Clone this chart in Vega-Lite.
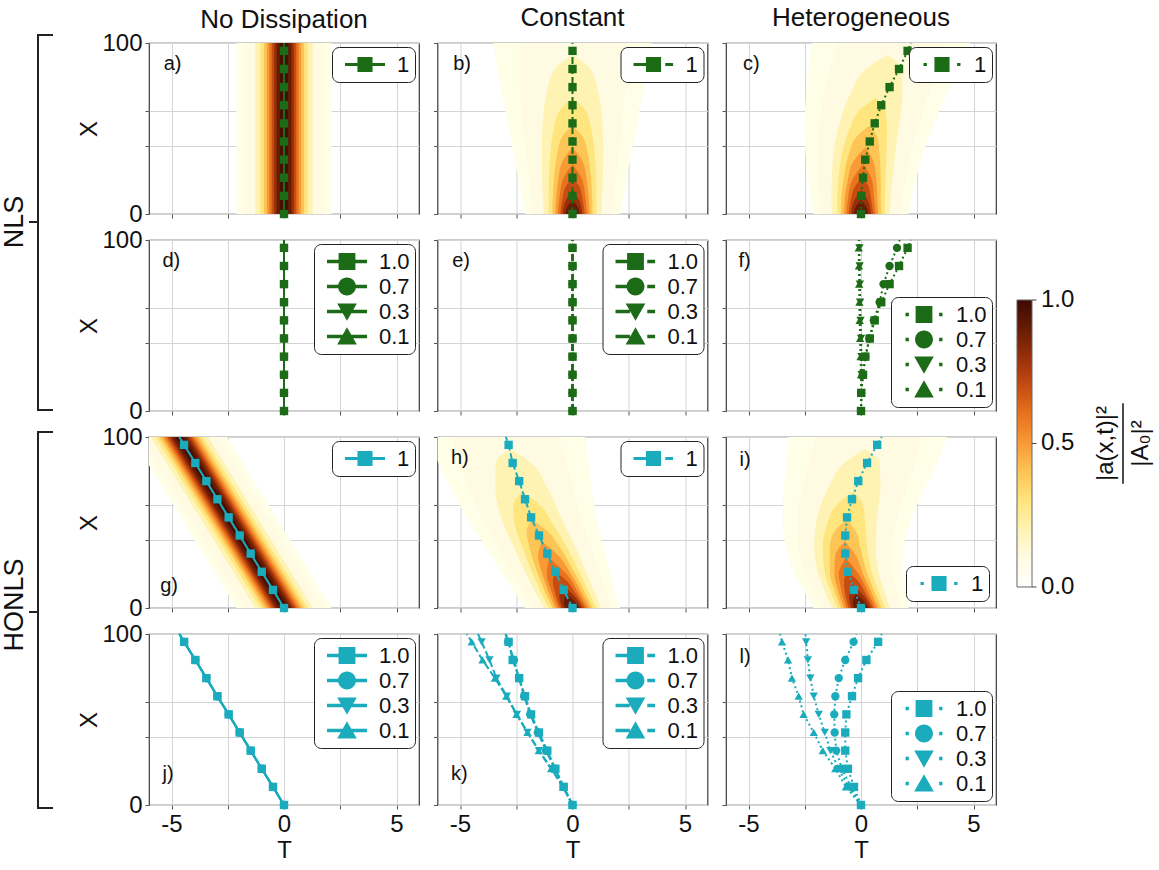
{
  "$schema": "https://vega.github.io/schema/vega-lite/v6.json",
  "background": "white",
  "padding": {"left": 0, "top": 4, "right": 5, "bottom": 5},
  "columns": 3,
  "bounds": "flush",
  "spacing": {"row": 26, "column": 18.5},
  "resolve": {"scale": {"shape": "independent"}, "legend": {"shape": "independent"}},
  "config": {
    "font": "Liberation Sans",
    "view": {"stroke": "#3a3a3a", "strokeWidth": 1.2},
    "axis": {"labelFontSize": 24, "titleFontSize": 24, "titleFontWeight": "normal", "labelColor": "#111", "titleColor": "#111", "tickColor": "#555", "gridColor": "#d4d4d4", "tickSize": 4, "labelPadding": 3, "domain": false},
    "axisY": {"titlePadding": 0},
    "axisX": {"titlePadding": 2},
    "title": {"fontSize": 26, "fontWeight": "normal", "offset": 8, "color": "#111"},
    "legend": {"padding": 5, "strokeColor": "#222", "cornerRadius": 7, "fillColor": "#ffffff", "labelFontSize": 22, "symbolSize": 3136, "clipHeight": 25, "labelOffset": 4, "rowPadding": 0, "offset": 4, "symbolStrokeWidth": 0, "symbolOpacity": 1, "labelColor": "#111"}
  },
  "datasets": {
    "tags": [
      {"p": "a", "lab": "a)"}, {"p": "b", "lab": "b)"}, {"p": "c", "lab": "c)"},
      {"p": "d", "lab": "d)"}, {"p": "e", "lab": "e)"}, {"p": "f", "lab": "f)"},
      {"p": "g", "lab": "g)"}, {"p": "h", "lab": "h)"}, {"p": "i", "lab": "i)"},
      {"p": "j", "lab": "j)"}, {"p": "k", "lab": "k)"}, {"p": "l", "lab": "l)"}
    ],
    "heat": [
      {"p":"a","v":0.035,"x":0,"t":-2.115,"t2":2.115},{"p":"a","v":0.035,"x":100,"t":-2.115,"t2":2.115},
      {"p":"a","v":0.1,"x":0,"t":-1.743,"t2":1.743},{"p":"a","v":0.1,"x":100,"t":-1.743,"t2":1.743},
      {"p":"a","v":0.2,"x":0,"t":-1.282,"t2":1.282},{"p":"a","v":0.2,"x":100,"t":-1.282,"t2":1.282},
      {"p":"a","v":0.3,"x":0,"t":-1.054,"t2":1.054},{"p":"a","v":0.3,"x":100,"t":-1.054,"t2":1.054},
      {"p":"a","v":0.4,"x":0,"t":-0.893,"t2":0.893},{"p":"a","v":0.4,"x":100,"t":-0.893,"t2":0.893},
      {"p":"a","v":0.5,"x":0,"t":-0.763,"t2":0.763},{"p":"a","v":0.5,"x":100,"t":-0.763,"t2":0.763},
      {"p":"a","v":0.6,"x":0,"t":-0.65,"t2":0.65},{"p":"a","v":0.6,"x":100,"t":-0.65,"t2":0.65},
      {"p":"a","v":0.7,"x":0,"t":-0.544,"t2":0.544},{"p":"a","v":0.7,"x":100,"t":-0.544,"t2":0.544},
      {"p":"a","v":0.8,"x":0,"t":-0.439,"t2":0.439},{"p":"a","v":0.8,"x":100,"t":-0.439,"t2":0.439},
      {"p":"a","v":0.9,"x":0,"t":-0.327,"t2":0.327},{"p":"a","v":0.9,"x":100,"t":-0.327,"t2":0.327},
      {"p":"a","v":0.975,"x":0,"t":-0.182,"t2":0.182},{"p":"a","v":0.975,"x":100,"t":-0.182,"t2":0.182},

      {"p":"g","v":0.035,"x":0,"t":-2.115,"t2":2.115},{"p":"g","v":0.035,"x":100,"t":-6.765,"t2":-2.535},
      {"p":"g","v":0.1,"x":0,"t":-1.743,"t2":1.743},{"p":"g","v":0.1,"x":100,"t":-6.393,"t2":-2.907},
      {"p":"g","v":0.2,"x":0,"t":-1.282,"t2":1.282},{"p":"g","v":0.2,"x":100,"t":-5.932,"t2":-3.368},
      {"p":"g","v":0.3,"x":0,"t":-1.054,"t2":1.054},{"p":"g","v":0.3,"x":100,"t":-5.704,"t2":-3.596},
      {"p":"g","v":0.4,"x":0,"t":-0.893,"t2":0.893},{"p":"g","v":0.4,"x":100,"t":-5.543,"t2":-3.757},
      {"p":"g","v":0.5,"x":0,"t":-0.763,"t2":0.763},{"p":"g","v":0.5,"x":100,"t":-5.413,"t2":-3.887},
      {"p":"g","v":0.6,"x":0,"t":-0.65,"t2":0.65},{"p":"g","v":0.6,"x":100,"t":-5.3,"t2":-4.0},
      {"p":"g","v":0.7,"x":0,"t":-0.544,"t2":0.544},{"p":"g","v":0.7,"x":100,"t":-5.194,"t2":-4.106},
      {"p":"g","v":0.8,"x":0,"t":-0.439,"t2":0.439},{"p":"g","v":0.8,"x":100,"t":-5.089,"t2":-4.211},
      {"p":"g","v":0.9,"x":0,"t":-0.327,"t2":0.327},{"p":"g","v":0.9,"x":100,"t":-4.977,"t2":-4.323},
      {"p":"g","v":0.975,"x":0,"t":-0.182,"t2":0.182},{"p":"g","v":0.975,"x":100,"t":-4.832,"t2":-4.468},

      {"p":"b","v":0.035,"x":0,"t":-2.115,"t2":2.115},{"p":"b","v":0.035,"x":10,"t":-2.251,"t2":2.251},{"p":"b","v":0.035,"x":20,"t":-2.392,"t2":2.392},{"p":"b","v":0.035,"x":35,"t":-2.608,"t2":2.608},{"p":"b","v":0.035,"x":50,"t":-2.831,"t2":2.831},{"p":"b","v":0.035,"x":70,"t":-3.127,"t2":3.127},{"p":"b","v":0.035,"x":85,"t":-3.337,"t2":3.337},{"p":"b","v":0.035,"x":100,"t":-3.523,"t2":3.523},
      {"p":"b","v":0.1,"x":0,"t":-1.743,"t2":1.743},{"p":"b","v":0.1,"x":10,"t":-1.837,"t2":1.837},{"p":"b","v":0.1,"x":20,"t":-1.931,"t2":1.931},{"p":"b","v":0.1,"x":35,"t":-2.066,"t2":2.066},{"p":"b","v":0.1,"x":50,"t":-2.19,"t2":2.19},{"p":"b","v":0.1,"x":70,"t":-2.321,"t2":2.321},{"p":"b","v":0.1,"x":85,"t":-2.369,"t2":2.369},{"p":"b","v":0.1,"x":100,"t":-2.344,"t2":2.344},
      {"p":"b","v":0.2,"x":0,"t":-1.282,"t2":1.282},{"p":"b","v":0.2,"x":10,"t":-1.32,"t2":1.32},{"p":"b","v":0.2,"x":20,"t":-1.35,"t2":1.35},{"p":"b","v":0.2,"x":35,"t":-1.369,"t2":1.369},{"p":"b","v":0.2,"x":50,"t":-1.34,"t2":1.34},{"p":"b","v":0.2,"x":70,"t":-1.163,"t2":1.163},{"p":"b","v":0.2,"x":85,"t":-0.78,"t2":0.78},{"p":"b","v":0.2,"x":93,"t":0,"t2":0},
      {"p":"b","v":0.3,"x":0,"t":-1.054,"t2":1.054},{"p":"b","v":0.3,"x":10,"t":-1.061,"t2":1.061},{"p":"b","v":0.3,"x":20,"t":-1.051,"t2":1.051},{"p":"b","v":0.3,"x":35,"t":-0.991,"t2":0.991},{"p":"b","v":0.3,"x":50,"t":-0.831,"t2":0.831},{"p":"b","v":0.3,"x":60,"t":-0.602,"t2":0.602},{"p":"b","v":0.3,"x":68,"t":0,"t2":0},
      {"p":"b","v":0.4,"x":0,"t":-0.893,"t2":0.893},{"p":"b","v":0.4,"x":10,"t":-0.873,"t2":0.873},{"p":"b","v":0.4,"x":20,"t":-0.829,"t2":0.829},{"p":"b","v":0.4,"x":35,"t":-0.681,"t2":0.681},{"p":"b","v":0.4,"x":45,"t":-0.465,"t2":0.465},{"p":"b","v":0.4,"x":51.5,"t":0,"t2":0},
      {"p":"b","v":0.5,"x":0,"t":-0.763,"t2":0.763},{"p":"b","v":0.5,"x":10,"t":-0.718,"t2":0.718},{"p":"b","v":0.5,"x":20,"t":-0.633,"t2":0.633},{"p":"b","v":0.5,"x":30,"t":-0.477,"t2":0.477},{"p":"b","v":0.5,"x":39.1,"t":0,"t2":0},
      {"p":"b","v":0.6,"x":0,"t":-0.65,"t2":0.65},{"p":"b","v":0.6,"x":10,"t":-0.575,"t2":0.575},{"p":"b","v":0.6,"x":20,"t":-0.434,"t2":0.434},{"p":"b","v":0.6,"x":29.3,"t":0,"t2":0},
      {"p":"b","v":0.7,"x":0,"t":-0.544,"t2":0.544},{"p":"b","v":0.7,"x":10,"t":-0.43,"t2":0.43},{"p":"b","v":0.7,"x":16,"t":-0.307,"t2":0.307},{"p":"b","v":0.7,"x":21.1,"t":0,"t2":0},
      {"p":"b","v":0.8,"x":0,"t":-0.439,"t2":0.439},{"p":"b","v":0.8,"x":7,"t":-0.331,"t2":0.331},{"p":"b","v":0.8,"x":14.1,"t":0,"t2":0},
      {"p":"b","v":0.9,"x":0,"t":-0.327,"t2":0.327},{"p":"b","v":0.9,"x":4,"t":-0.239,"t2":0.239},{"p":"b","v":0.9,"x":7.97,"t":0,"t2":0},
      {"p":"b","v":0.975,"x":0,"t":-0.182,"t2":0.182},{"p":"b","v":0.975,"x":2.51,"t":0,"t2":0},

      {"p":"c","v":0.035,"x":0,"t":-2.115,"t2":2.115},{"p":"c","v":0.035,"x":10,"t":-2.246,"t2":2.256},{"p":"c","v":0.035,"x":20,"t":-2.342,"t2":2.442},{"p":"c","v":0.035,"x":35,"t":-2.468,"t2":2.748},{"p":"c","v":0.035,"x":50,"t":-2.501,"t2":3.161},{"p":"c","v":0.035,"x":70,"t":-2.447,"t2":3.807},{"p":"c","v":0.035,"x":85,"t":-2.317,"t2":4.357},{"p":"c","v":0.035,"x":100,"t":-2.193,"t2":4.853},
      {"p":"c","v":0.1,"x":0,"t":-1.743,"t2":1.743},{"p":"c","v":0.1,"x":10,"t":-1.832,"t2":1.842},{"p":"c","v":0.1,"x":20,"t":-1.881,"t2":1.981},{"p":"c","v":0.1,"x":35,"t":-1.926,"t2":2.206},{"p":"c","v":0.1,"x":50,"t":-1.86,"t2":2.52},{"p":"c","v":0.1,"x":70,"t":-1.641,"t2":3.001},{"p":"c","v":0.1,"x":85,"t":-1.349,"t2":3.389},{"p":"c","v":0.1,"x":100,"t":-1.014,"t2":3.674},
      {"p":"c","v":0.2,"x":0,"t":-1.282,"t2":1.282},{"p":"c","v":0.2,"x":10,"t":-1.315,"t2":1.325},{"p":"c","v":0.2,"x":20,"t":-1.3,"t2":1.4},{"p":"c","v":0.2,"x":35,"t":-1.229,"t2":1.509},{"p":"c","v":0.2,"x":50,"t":-1.01,"t2":1.67},{"p":"c","v":0.2,"x":70,"t":-0.483,"t2":1.843},{"p":"c","v":0.2,"x":85,"t":0.24,"t2":1.8},{"p":"c","v":0.2,"x":93,"t":1.17,"t2":1.17},
      {"p":"c","v":0.3,"x":0,"t":-1.054,"t2":1.054},{"p":"c","v":0.3,"x":10,"t":-1.056,"t2":1.066},{"p":"c","v":0.3,"x":20,"t":-1.001,"t2":1.101},{"p":"c","v":0.3,"x":35,"t":-0.851,"t2":1.131},{"p":"c","v":0.3,"x":50,"t":-0.501,"t2":1.161},{"p":"c","v":0.3,"x":60,"t":-0.112,"t2":1.092},{"p":"c","v":0.3,"x":68,"t":0.64,"t2":0.64},
      {"p":"c","v":0.4,"x":0,"t":-0.893,"t2":0.893},{"p":"c","v":0.4,"x":10,"t":-0.868,"t2":0.878},{"p":"c","v":0.4,"x":20,"t":-0.779,"t2":0.879},{"p":"c","v":0.4,"x":35,"t":-0.541,"t2":0.821},{"p":"c","v":0.4,"x":45,"t":-0.205,"t2":0.725},{"p":"c","v":0.4,"x":51.5,"t":0.35,"t2":0.35},
      {"p":"c","v":0.5,"x":0,"t":-0.763,"t2":0.763},{"p":"c","v":0.5,"x":10,"t":-0.713,"t2":0.723},{"p":"c","v":0.5,"x":20,"t":-0.583,"t2":0.683},{"p":"c","v":0.5,"x":30,"t":-0.377,"t2":0.577},{"p":"c","v":0.5,"x":39.1,"t":0.2,"t2":0.2},
      {"p":"c","v":0.6,"x":0,"t":-0.65,"t2":0.65},{"p":"c","v":0.6,"x":10,"t":-0.57,"t2":0.58},{"p":"c","v":0.6,"x":20,"t":-0.384,"t2":0.484},{"p":"c","v":0.6,"x":29.3,"t":0.1,"t2":0.1},
      {"p":"c","v":0.7,"x":0,"t":-0.544,"t2":0.544},{"p":"c","v":0.7,"x":10,"t":-0.425,"t2":0.435},{"p":"c","v":0.7,"x":16,"t":-0.277,"t2":0.337},{"p":"c","v":0.7,"x":21.1,"t":0.055,"t2":0.055},
      {"p":"c","v":0.8,"x":0,"t":-0.439,"t2":0.439},{"p":"c","v":0.8,"x":7,"t":-0.331,"t2":0.331},{"p":"c","v":0.8,"x":14.1,"t":0.02,"t2":0.02},
      {"p":"c","v":0.9,"x":0,"t":-0.327,"t2":0.327},{"p":"c","v":0.9,"x":4,"t":-0.239,"t2":0.239},{"p":"c","v":0.9,"x":7.97,"t":0,"t2":0},
      {"p":"c","v":0.975,"x":0,"t":-0.182,"t2":0.182},{"p":"c","v":0.975,"x":2.51,"t":0,"t2":0},

      {"p":"h","v":0.035,"x":0,"t":-2.115,"t2":2.115},{"p":"h","v":0.035,"x":10,"t":-2.616,"t2":1.886},{"p":"h","v":0.035,"x":20,"t":-3.102,"t2":1.682},{"p":"h","v":0.035,"x":35,"t":-3.828,"t2":1.388},{"p":"h","v":0.035,"x":50,"t":-4.581,"t2":1.081},{"p":"h","v":0.035,"x":70,"t":-5.397,"t2":0.857},{"p":"h","v":0.035,"x":85,"t":-5.967,"t2":0.707},{"p":"h","v":0.035,"x":100,"t":-6.483,"t2":0.563},
      {"p":"h","v":0.1,"x":0,"t":-1.743,"t2":1.743},{"p":"h","v":0.1,"x":10,"t":-2.202,"t2":1.472},{"p":"h","v":0.1,"x":20,"t":-2.641,"t2":1.221},{"p":"h","v":0.1,"x":35,"t":-3.286,"t2":0.846},{"p":"h","v":0.1,"x":50,"t":-3.94,"t2":0.44},{"p":"h","v":0.1,"x":70,"t":-4.591,"t2":0.051},{"p":"h","v":0.1,"x":85,"t":-4.999,"t2":-0.261},{"p":"h","v":0.1,"x":100,"t":-5.304,"t2":-0.616},
      {"p":"h","v":0.2,"x":0,"t":-1.282,"t2":1.282},{"p":"h","v":0.2,"x":10,"t":-1.685,"t2":0.955},{"p":"h","v":0.2,"x":20,"t":-2.06,"t2":0.64},{"p":"h","v":0.2,"x":35,"t":-2.589,"t2":0.149},{"p":"h","v":0.2,"x":50,"t":-3.09,"t2":-0.41},{"p":"h","v":0.2,"x":70,"t":-3.433,"t2":-1.107},{"p":"h","v":0.2,"x":85,"t":-3.41,"t2":-1.85},{"p":"h","v":0.2,"x":93,"t":-2.78,"t2":-2.78},
      {"p":"h","v":0.3,"x":0,"t":-1.054,"t2":1.054},{"p":"h","v":0.3,"x":10,"t":-1.426,"t2":0.696},{"p":"h","v":0.3,"x":20,"t":-1.761,"t2":0.341},{"p":"h","v":0.3,"x":35,"t":-2.211,"t2":-0.229},{"p":"h","v":0.3,"x":50,"t":-2.581,"t2":-0.919},{"p":"h","v":0.3,"x":60,"t":-2.632,"t2":-1.428},{"p":"h","v":0.3,"x":68,"t":-2.23,"t2":-2.23},
      {"p":"h","v":0.4,"x":0,"t":-0.893,"t2":0.893},{"p":"h","v":0.4,"x":10,"t":-1.238,"t2":0.508},{"p":"h","v":0.4,"x":20,"t":-1.539,"t2":0.119},{"p":"h","v":0.4,"x":35,"t":-1.901,"t2":-0.539},{"p":"h","v":0.4,"x":45,"t":-2.045,"t2":-1.115},{"p":"h","v":0.4,"x":51.5,"t":-1.79,"t2":-1.79},
      {"p":"h","v":0.5,"x":0,"t":-0.763,"t2":0.763},{"p":"h","v":0.5,"x":10,"t":-1.083,"t2":0.353},{"p":"h","v":0.5,"x":20,"t":-1.343,"t2":-0.077},{"p":"h","v":0.5,"x":30,"t":-1.527,"t2":-0.573},{"p":"h","v":0.5,"x":39.1,"t":-1.37,"t2":-1.37},
      {"p":"h","v":0.6,"x":0,"t":-0.65,"t2":0.65},{"p":"h","v":0.6,"x":10,"t":-0.94,"t2":0.21},{"p":"h","v":0.6,"x":20,"t":-1.144,"t2":-0.276},{"p":"h","v":0.6,"x":29.3,"t":-1.03,"t2":-1.03},
      {"p":"h","v":0.7,"x":0,"t":-0.544,"t2":0.544},{"p":"h","v":0.7,"x":10,"t":-0.795,"t2":0.065},{"p":"h","v":0.7,"x":16,"t":-0.877,"t2":-0.263},{"p":"h","v":0.7,"x":21.1,"t":-0.75,"t2":-0.75},
      {"p":"h","v":0.8,"x":0,"t":-0.439,"t2":0.439},{"p":"h","v":0.8,"x":7,"t":-0.586,"t2":0.076},{"p":"h","v":0.8,"x":14.1,"t":-0.51,"t2":-0.51},
      {"p":"h","v":0.9,"x":0,"t":-0.327,"t2":0.327},{"p":"h","v":0.9,"x":4,"t":-0.385,"t2":0.093},{"p":"h","v":0.9,"x":7.97,"t":-0.29,"t2":-0.29},
      {"p":"h","v":0.975,"x":0,"t":-0.182,"t2":0.182},{"p":"h","v":0.975,"x":2.51,"t":-0.09,"t2":-0.09},

      {"p":"i","v":0.035,"x":0,"t":-2.115,"t2":2.115},{"p":"i","v":0.035,"x":10,"t":-2.541,"t2":1.961},{"p":"i","v":0.035,"x":20,"t":-2.942,"t2":1.842},{"p":"i","v":0.035,"x":35,"t":-3.318,"t2":1.898},{"p":"i","v":0.035,"x":50,"t":-3.481,"t2":2.181},{"p":"i","v":0.035,"x":70,"t":-3.427,"t2":2.827},{"p":"i","v":0.035,"x":85,"t":-3.287,"t2":3.387},{"p":"i","v":0.035,"x":100,"t":-3.223,"t2":3.823},
      {"p":"i","v":0.1,"x":0,"t":-1.743,"t2":1.743},{"p":"i","v":0.1,"x":10,"t":-2.127,"t2":1.547},{"p":"i","v":0.1,"x":20,"t":-2.481,"t2":1.381},{"p":"i","v":0.1,"x":35,"t":-2.776,"t2":1.356},{"p":"i","v":0.1,"x":50,"t":-2.84,"t2":1.54},{"p":"i","v":0.1,"x":70,"t":-2.621,"t2":2.021},{"p":"i","v":0.1,"x":85,"t":-2.319,"t2":2.419},{"p":"i","v":0.1,"x":100,"t":-2.044,"t2":2.644},
      {"p":"i","v":0.2,"x":0,"t":-1.282,"t2":1.282},{"p":"i","v":0.2,"x":10,"t":-1.61,"t2":1.03},{"p":"i","v":0.2,"x":20,"t":-1.9,"t2":0.8},{"p":"i","v":0.2,"x":35,"t":-2.079,"t2":0.659},{"p":"i","v":0.2,"x":50,"t":-1.99,"t2":0.69},{"p":"i","v":0.2,"x":70,"t":-1.463,"t2":0.863},{"p":"i","v":0.2,"x":85,"t":-0.73,"t2":0.83},{"p":"i","v":0.2,"x":93,"t":0.18,"t2":0.18},
      {"p":"i","v":0.3,"x":0,"t":-1.054,"t2":1.054},{"p":"i","v":0.3,"x":10,"t":-1.351,"t2":0.771},{"p":"i","v":0.3,"x":20,"t":-1.601,"t2":0.501},{"p":"i","v":0.3,"x":35,"t":-1.701,"t2":0.281},{"p":"i","v":0.3,"x":50,"t":-1.481,"t2":0.181},{"p":"i","v":0.3,"x":60,"t":-1.102,"t2":0.102},{"p":"i","v":0.3,"x":68,"t":-0.34,"t2":-0.34},
      {"p":"i","v":0.4,"x":0,"t":-0.893,"t2":0.893},{"p":"i","v":0.4,"x":10,"t":-1.163,"t2":0.583},{"p":"i","v":0.4,"x":20,"t":-1.379,"t2":0.279},{"p":"i","v":0.4,"x":35,"t":-1.391,"t2":-0.029},{"p":"i","v":0.4,"x":45,"t":-1.165,"t2":-0.235},{"p":"i","v":0.4,"x":51.5,"t":-0.63,"t2":-0.63},
      {"p":"i","v":0.5,"x":0,"t":-0.763,"t2":0.763},{"p":"i","v":0.5,"x":10,"t":-1.008,"t2":0.428},{"p":"i","v":0.5,"x":20,"t":-1.183,"t2":0.083},{"p":"i","v":0.5,"x":30,"t":-1.157,"t2":-0.203},{"p":"i","v":0.5,"x":39.1,"t":-0.72,"t2":-0.72},
      {"p":"i","v":0.6,"x":0,"t":-0.65,"t2":0.65},{"p":"i","v":0.6,"x":10,"t":-0.865,"t2":0.285},{"p":"i","v":0.6,"x":20,"t":-0.984,"t2":-0.116},{"p":"i","v":0.6,"x":29.3,"t":-0.67,"t2":-0.67},
      {"p":"i","v":0.7,"x":0,"t":-0.544,"t2":0.544},{"p":"i","v":0.7,"x":10,"t":-0.72,"t2":0.14},{"p":"i","v":0.7,"x":16,"t":-0.757,"t2":-0.143},{"p":"i","v":0.7,"x":21.1,"t":-0.57,"t2":-0.57},
      {"p":"i","v":0.8,"x":0,"t":-0.439,"t2":0.439},{"p":"i","v":0.8,"x":7,"t":-0.531,"t2":0.131},{"p":"i","v":0.8,"x":14.1,"t":-0.4,"t2":-0.4},
      {"p":"i","v":0.9,"x":0,"t":-0.327,"t2":0.327},{"p":"i","v":0.9,"x":4,"t":-0.359,"t2":0.119},{"p":"i","v":0.9,"x":7.97,"t":-0.23,"t2":-0.23},
      {"p":"i","v":0.975,"x":0,"t":-0.182,"t2":0.182},{"p":"i","v":0.975,"x":2.51,"t":-0.07,"t2":-0.07}
    ],
    "tracks": [
      {"p":"a","d":"1","x":0,"t":0},{"p":"a","d":"1","x":10.6,"t":0},{"p":"a","d":"1","x":21.2,"t":0},{"p":"a","d":"1","x":31.8,"t":0},{"p":"a","d":"1","x":42.4,"t":0},{"p":"a","d":"1","x":53,"t":0},{"p":"a","d":"1","x":63.6,"t":0},{"p":"a","d":"1","x":74.2,"t":0},{"p":"a","d":"1","x":84.8,"t":0},{"p":"a","d":"1","x":95.4,"t":0},{"p":"a","d":"1","x":100,"t":0},
      {"p":"b","d":"1","x":0,"t":0},{"p":"b","d":"1","x":10.6,"t":0},{"p":"b","d":"1","x":21.2,"t":0},{"p":"b","d":"1","x":31.8,"t":0},{"p":"b","d":"1","x":42.4,"t":0},{"p":"b","d":"1","x":53,"t":0},{"p":"b","d":"1","x":63.6,"t":0},{"p":"b","d":"1","x":74.2,"t":0},{"p":"b","d":"1","x":84.8,"t":0},{"p":"b","d":"1","x":95.4,"t":0},{"p":"b","d":"1","x":100,"t":0},
      {"p":"c","d":"1","x":0,"t":0},{"p":"c","d":"1","x":10.6,"t":0.01},{"p":"c","d":"1","x":21.2,"t":0.09},{"p":"c","d":"1","x":31.8,"t":0.19},{"p":"c","d":"1","x":42.4,"t":0.39},{"p":"c","d":"1","x":53,"t":0.61},{"p":"c","d":"1","x":63.6,"t":0.9},{"p":"c","d":"1","x":74.2,"t":1.27},{"p":"c","d":"1","x":84.8,"t":1.69},{"p":"c","d":"1","x":95.4,"t":2.07},{"p":"c","d":"1","x":100,"t":2.22},
      {"p":"d","d":"0.1","x":0,"t":0},{"p":"d","d":"0.1","x":10.6,"t":0},{"p":"d","d":"0.1","x":21.2,"t":0},{"p":"d","d":"0.1","x":31.8,"t":0},{"p":"d","d":"0.1","x":42.4,"t":0},{"p":"d","d":"0.1","x":53,"t":0},{"p":"d","d":"0.1","x":63.6,"t":0},{"p":"d","d":"0.1","x":74.2,"t":0},{"p":"d","d":"0.1","x":84.8,"t":0},{"p":"d","d":"0.1","x":95.4,"t":0},{"p":"d","d":"0.1","x":100,"t":0},
      {"p":"d","d":"0.3","x":0,"t":0},{"p":"d","d":"0.3","x":10.6,"t":0},{"p":"d","d":"0.3","x":21.2,"t":0},{"p":"d","d":"0.3","x":31.8,"t":0},{"p":"d","d":"0.3","x":42.4,"t":0},{"p":"d","d":"0.3","x":53,"t":0},{"p":"d","d":"0.3","x":63.6,"t":0},{"p":"d","d":"0.3","x":74.2,"t":0},{"p":"d","d":"0.3","x":84.8,"t":0},{"p":"d","d":"0.3","x":95.4,"t":0},{"p":"d","d":"0.3","x":100,"t":0},
      {"p":"d","d":"0.7","x":0,"t":0},{"p":"d","d":"0.7","x":10.6,"t":0},{"p":"d","d":"0.7","x":21.2,"t":0},{"p":"d","d":"0.7","x":31.8,"t":0},{"p":"d","d":"0.7","x":42.4,"t":0},{"p":"d","d":"0.7","x":53,"t":0},{"p":"d","d":"0.7","x":63.6,"t":0},{"p":"d","d":"0.7","x":74.2,"t":0},{"p":"d","d":"0.7","x":84.8,"t":0},{"p":"d","d":"0.7","x":95.4,"t":0},{"p":"d","d":"0.7","x":100,"t":0},
      {"p":"d","d":"1.0","x":0,"t":0},{"p":"d","d":"1.0","x":10.6,"t":0},{"p":"d","d":"1.0","x":21.2,"t":0},{"p":"d","d":"1.0","x":31.8,"t":0},{"p":"d","d":"1.0","x":42.4,"t":0},{"p":"d","d":"1.0","x":53,"t":0},{"p":"d","d":"1.0","x":63.6,"t":0},{"p":"d","d":"1.0","x":74.2,"t":0},{"p":"d","d":"1.0","x":84.8,"t":0},{"p":"d","d":"1.0","x":95.4,"t":0},{"p":"d","d":"1.0","x":100,"t":0},
      {"p":"e","d":"0.1","x":0,"t":0},{"p":"e","d":"0.1","x":10.6,"t":0},{"p":"e","d":"0.1","x":21.2,"t":0},{"p":"e","d":"0.1","x":31.8,"t":0},{"p":"e","d":"0.1","x":42.4,"t":0},{"p":"e","d":"0.1","x":53,"t":0},{"p":"e","d":"0.1","x":63.6,"t":0},{"p":"e","d":"0.1","x":74.2,"t":0},{"p":"e","d":"0.1","x":84.8,"t":0},{"p":"e","d":"0.1","x":95.4,"t":0},{"p":"e","d":"0.1","x":100,"t":0},
      {"p":"e","d":"0.3","x":0,"t":0},{"p":"e","d":"0.3","x":10.6,"t":0},{"p":"e","d":"0.3","x":21.2,"t":0},{"p":"e","d":"0.3","x":31.8,"t":0},{"p":"e","d":"0.3","x":42.4,"t":0},{"p":"e","d":"0.3","x":53,"t":0},{"p":"e","d":"0.3","x":63.6,"t":0},{"p":"e","d":"0.3","x":74.2,"t":0},{"p":"e","d":"0.3","x":84.8,"t":0},{"p":"e","d":"0.3","x":95.4,"t":0},{"p":"e","d":"0.3","x":100,"t":0},
      {"p":"e","d":"0.7","x":0,"t":0},{"p":"e","d":"0.7","x":10.6,"t":0},{"p":"e","d":"0.7","x":21.2,"t":0},{"p":"e","d":"0.7","x":31.8,"t":0},{"p":"e","d":"0.7","x":42.4,"t":0},{"p":"e","d":"0.7","x":53,"t":0},{"p":"e","d":"0.7","x":63.6,"t":0},{"p":"e","d":"0.7","x":74.2,"t":0},{"p":"e","d":"0.7","x":84.8,"t":0},{"p":"e","d":"0.7","x":95.4,"t":0},{"p":"e","d":"0.7","x":100,"t":0},
      {"p":"e","d":"1.0","x":0,"t":0},{"p":"e","d":"1.0","x":10.6,"t":0},{"p":"e","d":"1.0","x":21.2,"t":0},{"p":"e","d":"1.0","x":31.8,"t":0},{"p":"e","d":"1.0","x":42.4,"t":0},{"p":"e","d":"1.0","x":53,"t":0},{"p":"e","d":"1.0","x":63.6,"t":0},{"p":"e","d":"1.0","x":74.2,"t":0},{"p":"e","d":"1.0","x":84.8,"t":0},{"p":"e","d":"1.0","x":95.4,"t":0},{"p":"e","d":"1.0","x":100,"t":0},
      {"p":"f","d":"0.1","x":0,"t":0},{"p":"f","d":"0.1","x":10.6,"t":0.01},{"p":"f","d":"0.1","x":21.2,"t":0},{"p":"f","d":"0.1","x":31.8,"t":-0.02},{"p":"f","d":"0.1","x":42.4,"t":-0.04},{"p":"f","d":"0.1","x":53,"t":-0.06},{"p":"f","d":"0.1","x":63.6,"t":-0.07},{"p":"f","d":"0.1","x":74.2,"t":-0.08},{"p":"f","d":"0.1","x":84.8,"t":-0.09},{"p":"f","d":"0.1","x":95.4,"t":-0.1},{"p":"f","d":"0.1","x":100,"t":-0.1},
      {"p":"f","d":"0.3","x":0,"t":0},{"p":"f","d":"0.3","x":10.6,"t":0.02},{"p":"f","d":"0.3","x":21.2,"t":0.03},{"p":"f","d":"0.3","x":31.8,"t":0.02},{"p":"f","d":"0.3","x":42.4,"t":0},{"p":"f","d":"0.3","x":53,"t":-0.02},{"p":"f","d":"0.3","x":63.6,"t":-0.04},{"p":"f","d":"0.3","x":74.2,"t":-0.05},{"p":"f","d":"0.3","x":84.8,"t":-0.06},{"p":"f","d":"0.3","x":95.4,"t":-0.07},{"p":"f","d":"0.3","x":100,"t":-0.07},
      {"p":"f","d":"0.7","x":0,"t":0},{"p":"f","d":"0.7","x":10.6,"t":0.01},{"p":"f","d":"0.7","x":21.2,"t":0.09},{"p":"f","d":"0.7","x":31.8,"t":0.19},{"p":"f","d":"0.7","x":42.4,"t":0.37},{"p":"f","d":"0.7","x":53,"t":0.57},{"p":"f","d":"0.7","x":63.6,"t":0.83},{"p":"f","d":"0.7","x":74.2,"t":1.0},{"p":"f","d":"0.7","x":84.8,"t":1.27},{"p":"f","d":"0.7","x":95.4,"t":1.6},{"p":"f","d":"0.7","x":100,"t":1.72},
      {"p":"f","d":"1.0","x":0,"t":0},{"p":"f","d":"1.0","x":10.6,"t":0.01},{"p":"f","d":"1.0","x":21.2,"t":0.09},{"p":"f","d":"1.0","x":31.8,"t":0.19},{"p":"f","d":"1.0","x":42.4,"t":0.39},{"p":"f","d":"1.0","x":53,"t":0.61},{"p":"f","d":"1.0","x":63.6,"t":0.9},{"p":"f","d":"1.0","x":74.2,"t":1.27},{"p":"f","d":"1.0","x":84.8,"t":1.69},{"p":"f","d":"1.0","x":95.4,"t":2.07},{"p":"f","d":"1.0","x":100,"t":2.22},
      {"p":"g","d":"1","x":0,"t":0},{"p":"g","d":"1","x":10.6,"t":-0.49},{"p":"g","d":"1","x":21.2,"t":-0.99},{"p":"g","d":"1","x":31.8,"t":-1.48},{"p":"g","d":"1","x":42.4,"t":-1.97},{"p":"g","d":"1","x":53,"t":-2.46},{"p":"g","d":"1","x":63.6,"t":-2.96},{"p":"g","d":"1","x":74.2,"t":-3.45},{"p":"g","d":"1","x":84.8,"t":-3.94},{"p":"g","d":"1","x":95.4,"t":-4.44},{"p":"g","d":"1","x":100,"t":-4.65},
      {"p":"h","d":"1","x":0,"t":0},{"p":"h","d":"1","x":10.6,"t":-0.39},{"p":"h","d":"1","x":21.2,"t":-0.76},{"p":"h","d":"1","x":31.8,"t":-1.12},{"p":"h","d":"1","x":42.4,"t":-1.49},{"p":"h","d":"1","x":53,"t":-1.84},{"p":"h","d":"1","x":63.6,"t":-2.11},{"p":"h","d":"1","x":74.2,"t":-2.37},{"p":"h","d":"1","x":84.8,"t":-2.66},{"p":"h","d":"1","x":95.4,"t":-2.84},{"p":"h","d":"1","x":100,"t":-2.96},
      {"p":"i","d":"1","x":0,"t":0},{"p":"i","d":"1","x":10.6,"t":-0.31},{"p":"i","d":"1","x":21.2,"t":-0.58},{"p":"i","d":"1","x":31.8,"t":-0.7},{"p":"i","d":"1","x":42.4,"t":-0.7},{"p":"i","d":"1","x":53,"t":-0.62},{"p":"i","d":"1","x":63.6,"t":-0.4},{"p":"i","d":"1","x":74.2,"t":-0.12},{"p":"i","d":"1","x":84.8,"t":0.27},{"p":"i","d":"1","x":95.4,"t":0.72},{"p":"i","d":"1","x":100,"t":0.92},
      {"p":"j","d":"0.1","x":0,"t":0},{"p":"j","d":"0.1","x":10.6,"t":-0.49},{"p":"j","d":"0.1","x":21.2,"t":-0.99},{"p":"j","d":"0.1","x":31.8,"t":-1.48},{"p":"j","d":"0.1","x":42.4,"t":-1.97},{"p":"j","d":"0.1","x":53,"t":-2.46},{"p":"j","d":"0.1","x":63.6,"t":-2.96},{"p":"j","d":"0.1","x":74.2,"t":-3.45},{"p":"j","d":"0.1","x":84.8,"t":-3.94},{"p":"j","d":"0.1","x":95.4,"t":-4.44},{"p":"j","d":"0.1","x":100,"t":-4.65},
      {"p":"j","d":"0.3","x":0,"t":0},{"p":"j","d":"0.3","x":10.6,"t":-0.49},{"p":"j","d":"0.3","x":21.2,"t":-0.99},{"p":"j","d":"0.3","x":31.8,"t":-1.48},{"p":"j","d":"0.3","x":42.4,"t":-1.97},{"p":"j","d":"0.3","x":53,"t":-2.46},{"p":"j","d":"0.3","x":63.6,"t":-2.96},{"p":"j","d":"0.3","x":74.2,"t":-3.45},{"p":"j","d":"0.3","x":84.8,"t":-3.94},{"p":"j","d":"0.3","x":95.4,"t":-4.44},{"p":"j","d":"0.3","x":100,"t":-4.65},
      {"p":"j","d":"0.7","x":0,"t":0},{"p":"j","d":"0.7","x":10.6,"t":-0.49},{"p":"j","d":"0.7","x":21.2,"t":-0.99},{"p":"j","d":"0.7","x":31.8,"t":-1.48},{"p":"j","d":"0.7","x":42.4,"t":-1.97},{"p":"j","d":"0.7","x":53,"t":-2.46},{"p":"j","d":"0.7","x":63.6,"t":-2.96},{"p":"j","d":"0.7","x":74.2,"t":-3.45},{"p":"j","d":"0.7","x":84.8,"t":-3.94},{"p":"j","d":"0.7","x":95.4,"t":-4.44},{"p":"j","d":"0.7","x":100,"t":-4.65},
      {"p":"j","d":"1.0","x":0,"t":0},{"p":"j","d":"1.0","x":10.6,"t":-0.49},{"p":"j","d":"1.0","x":21.2,"t":-0.99},{"p":"j","d":"1.0","x":31.8,"t":-1.48},{"p":"j","d":"1.0","x":42.4,"t":-1.97},{"p":"j","d":"1.0","x":53,"t":-2.46},{"p":"j","d":"1.0","x":63.6,"t":-2.96},{"p":"j","d":"1.0","x":74.2,"t":-3.45},{"p":"j","d":"1.0","x":84.8,"t":-3.94},{"p":"j","d":"1.0","x":95.4,"t":-4.44},{"p":"j","d":"1.0","x":100,"t":-4.65},
      {"p":"k","d":"0.1","x":0,"t":0},{"p":"k","d":"0.1","x":10.6,"t":-0.42},{"p":"k","d":"0.1","x":21.2,"t":-0.95},{"p":"k","d":"0.1","x":31.8,"t":-1.5},{"p":"k","d":"0.1","x":42.4,"t":-2.0},{"p":"k","d":"0.1","x":53,"t":-2.49},{"p":"k","d":"0.1","x":63.6,"t":-2.94},{"p":"k","d":"0.1","x":74.2,"t":-3.45},{"p":"k","d":"0.1","x":84.8,"t":-4.0},{"p":"k","d":"0.1","x":95.4,"t":-4.48},{"p":"k","d":"0.1","x":100,"t":-4.7},
      {"p":"k","d":"0.3","x":0,"t":0},{"p":"k","d":"0.3","x":10.6,"t":-0.42},{"p":"k","d":"0.3","x":21.2,"t":-0.93},{"p":"k","d":"0.3","x":31.8,"t":-1.49},{"p":"k","d":"0.3","x":42.4,"t":-2.0},{"p":"k","d":"0.3","x":53,"t":-2.47},{"p":"k","d":"0.3","x":63.6,"t":-2.92},{"p":"k","d":"0.3","x":74.2,"t":-3.38},{"p":"k","d":"0.3","x":84.8,"t":-3.69},{"p":"k","d":"0.3","x":95.4,"t":-4.04},{"p":"k","d":"0.3","x":100,"t":-4.2},
      {"p":"k","d":"0.7","x":0,"t":0},{"p":"k","d":"0.7","x":10.6,"t":-0.4},{"p":"k","d":"0.7","x":21.2,"t":-0.79},{"p":"k","d":"0.7","x":31.8,"t":-1.18},{"p":"k","d":"0.7","x":42.4,"t":-1.54},{"p":"k","d":"0.7","x":53,"t":-1.88},{"p":"k","d":"0.7","x":63.6,"t":-2.15},{"p":"k","d":"0.7","x":74.2,"t":-2.38},{"p":"k","d":"0.7","x":84.8,"t":-2.6},{"p":"k","d":"0.7","x":95.4,"t":-2.86},{"p":"k","d":"0.7","x":100,"t":-2.98},
      {"p":"k","d":"1.0","x":0,"t":0},{"p":"k","d":"1.0","x":10.6,"t":-0.39},{"p":"k","d":"1.0","x":21.2,"t":-0.76},{"p":"k","d":"1.0","x":31.8,"t":-1.12},{"p":"k","d":"1.0","x":42.4,"t":-1.49},{"p":"k","d":"1.0","x":53,"t":-1.84},{"p":"k","d":"1.0","x":63.6,"t":-2.11},{"p":"k","d":"1.0","x":74.2,"t":-2.37},{"p":"k","d":"1.0","x":84.8,"t":-2.66},{"p":"k","d":"1.0","x":95.4,"t":-2.84},{"p":"k","d":"1.0","x":100,"t":-2.96},
      {"p":"l","d":"0.1","x":0,"t":0},{"p":"l","d":"0.1","x":10.6,"t":-0.67},{"p":"l","d":"0.1","x":21.2,"t":-1.14},{"p":"l","d":"0.1","x":31.8,"t":-1.7},{"p":"l","d":"0.1","x":42.4,"t":-2.1},{"p":"l","d":"0.1","x":53,"t":-2.55},{"p":"l","d":"0.1","x":63.6,"t":-2.77},{"p":"l","d":"0.1","x":74.2,"t":-3.07},{"p":"l","d":"0.1","x":84.8,"t":-3.24},{"p":"l","d":"0.1","x":95.4,"t":-3.51},{"p":"l","d":"0.1","x":100,"t":-3.6},
      {"p":"l","d":"0.3","x":0,"t":0},{"p":"l","d":"0.3","x":10.6,"t":-0.55},{"p":"l","d":"0.3","x":21.2,"t":-0.99},{"p":"l","d":"0.3","x":31.8,"t":-1.36},{"p":"l","d":"0.3","x":42.4,"t":-1.61},{"p":"l","d":"0.3","x":53,"t":-1.88},{"p":"l","d":"0.3","x":63.6,"t":-2.1},{"p":"l","d":"0.3","x":74.2,"t":-2.25},{"p":"l","d":"0.3","x":84.8,"t":-2.36},{"p":"l","d":"0.3","x":95.4,"t":-2.44},{"p":"l","d":"0.3","x":100,"t":-2.47},
      {"p":"l","d":"0.7","x":0,"t":0},{"p":"l","d":"0.7","x":10.6,"t":-0.45},{"p":"l","d":"0.7","x":21.2,"t":-0.85},{"p":"l","d":"0.7","x":31.8,"t":-1.1},{"p":"l","d":"0.7","x":42.4,"t":-1.17},{"p":"l","d":"0.7","x":53,"t":-1.19},{"p":"l","d":"0.7","x":63.6,"t":-1.14},{"p":"l","d":"0.7","x":74.2,"t":-0.99},{"p":"l","d":"0.7","x":84.8,"t":-0.7},{"p":"l","d":"0.7","x":95.4,"t":-0.33},{"p":"l","d":"0.7","x":100,"t":-0.2},
      {"p":"l","d":"1.0","x":0,"t":0},{"p":"l","d":"1.0","x":10.6,"t":-0.31},{"p":"l","d":"1.0","x":21.2,"t":-0.58},{"p":"l","d":"1.0","x":31.8,"t":-0.7},{"p":"l","d":"1.0","x":42.4,"t":-0.7},{"p":"l","d":"1.0","x":53,"t":-0.65},{"p":"l","d":"1.0","x":63.6,"t":-0.4},{"p":"l","d":"1.0","x":74.2,"t":-0.13},{"p":"l","d":"1.0","x":84.8,"t":0.24},{"p":"l","d":"1.0","x":95.4,"t":0.76},{"p":"l","d":"1.0","x":100,"t":0.92}
    ]
  },
  "concat": [
    {
      "width": 270, "height": 171, "title": {"text": "No Dissipation", "offset": -2},
      "resolve": {"scale": {"shape": "independent"}},
      "layer": [
        {"data": {"name": "heat"}, "transform": [{"filter": "datum.p == 'a'"}], "mark": {"type": "area", "orient": "horizontal", "interpolate": "monotone", "clip": true}, "encoding": {"x": {"field": "t", "type": "quantitative", "scale": {"domain": [-6, 6], "nice": false}}, "x2": {"field": "t2"}, "y": {"field": "x", "type": "quantitative", "scale": {"domain": [0, 100], "nice": false}}, "fill": {"field": "v", "type": "quantitative", "scale": {"domain": [0, 1], "range": ["#ffffff", "#fffbe3", "#fff3b4", "#ffe57e", "#fdc456", "#f89b36", "#e8731f", "#c64c12", "#973009", "#671c05", "#3d0a02"]}, "legend": null}, "detail": {"field": "v", "type": "nominal"}}},
        {"data": {"name": "tracks"}, "transform": [{"filter": "datum.p == 'a'"}], "mark": {"type": "line", "color": "#1c6b16", "strokeWidth": 2}, "encoding": {"x": {"field": "t", "type": "quantitative", "scale": {"domain": [-6, 6], "nice": false}, "axis": {"values": [-5, -2.5, 0, 2.5, 5], "labels": false, "title": null}}, "y": {"field": "x", "type": "quantitative", "scale": {"domain": [0, 100], "nice": false}, "axis": {"values": [0, 20, 40, 50, 60, 80, 100], "labelExpr": "datum.value % 50 == 0 ? datum.label : ''", "title": "X", "gridOpacity": {"condition": {"test": "datum.value == 50", "value": 0}, "value": 1}}}, "detail": {"field": "d", "type": "nominal"}, "order": {"field": "x", "type": "quantitative"}}},
        {"data": {"name": "tracks"}, "transform": [{"filter": "datum.p == 'a' && datum.x < 100"}], "mark": {"type": "point", "filled": true, "opacity": 1, "color": "#1c6b16", "size": 70}, "encoding": {"x": {"field": "t", "type": "quantitative"}, "y": {"field": "x", "type": "quantitative"}, "shape": {"field": "d", "type": "nominal", "scale": {"domain": ["1"], "range": ["square"]}, "legend": null}}},
        {"data": {"name": "tracks"}, "transform": [{"filter": "datum.p == 'a' && datum.x == 0"}], "mark": {"type": "point", "filled": true, "opacity": 0, "color": "#1c6b16"}, "encoding": {"x": {"field": "t", "type": "quantitative"}, "y": {"field": "x", "type": "quantitative"}, "shape": {"field": "d", "type": "nominal", "scale": {"domain": ["1"], "range": ["M-0.714,-0.055H0.714V0.055H-0.714Z M-0.27,-0.27H0.27V0.27H-0.27Z"]}, "legend": {"title": null, "orient": "top-right", "zindex": 2}}}},
        {"data": {"name": "tags"}, "transform": [{"filter": "datum.p == 'a'"}], "mark": {"type": "text", "align": "left", "baseline": "middle", "fontSize": 20, "color": "#111"}, "encoding": {"x": {"datum": -5.35, "type": "quantitative"}, "y": {"datum": 88, "type": "quantitative"}, "text": {"field": "lab"}}},
        {"data": {"values": [{"part": "bracket"}]}, "mark": {"type": "rule", "color": "#222", "strokeWidth": 2, "strokeCap": "square"}, "encoding": {"x": {"datum": -10.933, "type": "quantitative"}, "y": {"datum": 104.68, "type": "quantitative"}, "y2": {"datum": -114.62}}},
        {"data": {"values": [{"part": "bracket"}]}, "mark": {"type": "rule", "color": "#222", "strokeWidth": 2, "strokeCap": "square"}, "encoding": {"x": {"datum": -10.933, "type": "quantitative"}, "x2": {"datum": -10.311}, "y": {"datum": 104.68, "type": "quantitative"}}},
        {"data": {"values": [{"part": "bracket"}]}, "mark": {"type": "rule", "color": "#222", "strokeWidth": 2, "strokeCap": "square"}, "encoding": {"x": {"datum": -10.933, "type": "quantitative"}, "x2": {"datum": -10.311}, "y": {"datum": -114.62, "type": "quantitative"}}},
        {"data": {"values": [{"part": "bracket"}]}, "mark": {"type": "rule", "color": "#222", "strokeWidth": 2, "strokeCap": "square"}, "encoding": {"x": {"datum": -11.289, "type": "quantitative"}, "x2": {"datum": -10.933}, "y": {"datum": -4.68, "type": "quantitative"}}},
        {"data": {"values": [{"part": "bracket"}]}, "mark": {"type": "text", "text": "NLS", "angle": 270, "fontSize": 27, "align": "center", "baseline": "middle", "color": "#111"}, "encoding": {"x": {"datum": -11.95, "type": "quantitative"}, "y": {"datum": -4.68, "type": "quantitative"}}}
      ]
    },
    {
      "width": 270, "height": 171, "title": "Constant",
      "resolve": {"scale": {"shape": "independent"}},
      "layer": [
        {"data": {"name": "heat"}, "transform": [{"filter": "datum.p == 'b'"}], "mark": {"type": "area", "orient": "horizontal", "interpolate": "monotone", "clip": true}, "encoding": {"x": {"field": "t", "type": "quantitative", "scale": {"domain": [-6, 6], "nice": false}}, "x2": {"field": "t2"}, "y": {"field": "x", "type": "quantitative", "scale": {"domain": [0, 100], "nice": false}}, "fill": {"field": "v", "type": "quantitative", "scale": {"domain": [0, 1], "range": ["#ffffff", "#fffbe3", "#fff3b4", "#ffe57e", "#fdc456", "#f89b36", "#e8731f", "#c64c12", "#973009", "#671c05", "#3d0a02"]}, "legend": null}, "detail": {"field": "v", "type": "nominal"}}},
        {"data": {"name": "tracks"}, "transform": [{"filter": "datum.p == 'b'"}], "mark": {"type": "line", "color": "#1c6b16", "strokeWidth": 2, "strokeDash": [7, 3]}, "encoding": {"x": {"field": "t", "type": "quantitative", "scale": {"domain": [-6, 6], "nice": false}, "axis": {"values": [-5, -2.5, 0, 2.5, 5], "labels": false, "title": null}}, "y": {"field": "x", "type": "quantitative", "scale": {"domain": [0, 100], "nice": false}, "axis": {"values": [0, 20, 40, 50, 60, 80, 100], "labels": false, "title": null, "gridOpacity": {"condition": {"test": "datum.value == 50", "value": 0}, "value": 1}}}, "detail": {"field": "d", "type": "nominal"}, "order": {"field": "x", "type": "quantitative"}}},
        {"data": {"name": "tracks"}, "transform": [{"filter": "datum.p == 'b' && datum.x < 100"}], "mark": {"type": "point", "filled": true, "opacity": 1, "color": "#1c6b16", "size": 70}, "encoding": {"x": {"field": "t", "type": "quantitative"}, "y": {"field": "x", "type": "quantitative"}, "shape": {"field": "d", "type": "nominal", "scale": {"domain": ["1"], "range": ["square"]}, "legend": null}}},
        {"data": {"name": "tracks"}, "transform": [{"filter": "datum.p == 'b' && datum.x == 0"}], "mark": {"type": "point", "filled": true, "opacity": 0, "color": "#1c6b16"}, "encoding": {"x": {"field": "t", "type": "quantitative"}, "y": {"field": "x", "type": "quantitative"}, "shape": {"field": "d", "type": "nominal", "scale": {"domain": ["1"], "range": ["M-0.714,-0.055H-0.2V0.055H-0.714Z M0.42,-0.055H0.7V0.055H0.42Z M-0.27,-0.27H0.27V0.27H-0.27Z"]}, "legend": {"title": null, "orient": "top-right", "zindex": 2}}}},
        {"data": {"name": "tags"}, "transform": [{"filter": "datum.p == 'b'"}], "mark": {"type": "text", "align": "left", "baseline": "middle", "fontSize": 20, "color": "#111"}, "encoding": {"x": {"datum": -5.3, "type": "quantitative"}, "y": {"datum": 88, "type": "quantitative"}, "text": {"field": "lab"}}}
      ]
    },
    {
      "width": 270, "height": 171, "title": "Heterogeneous",
      "resolve": {"scale": {"shape": "independent"}},
      "layer": [
        {"data": {"name": "heat"}, "transform": [{"filter": "datum.p == 'c'"}], "mark": {"type": "area", "orient": "horizontal", "interpolate": "monotone", "clip": true}, "encoding": {"x": {"field": "t", "type": "quantitative", "scale": {"domain": [-6, 6], "nice": false}}, "x2": {"field": "t2"}, "y": {"field": "x", "type": "quantitative", "scale": {"domain": [0, 100], "nice": false}}, "fill": {"field": "v", "type": "quantitative", "scale": {"domain": [0, 1], "range": ["#ffffff", "#fffbe3", "#fff3b4", "#ffe57e", "#fdc456", "#f89b36", "#e8731f", "#c64c12", "#973009", "#671c05", "#3d0a02"]}, "legend": null}, "detail": {"field": "v", "type": "nominal"}}},
        {"data": {"name": "tracks"}, "transform": [{"filter": "datum.p == 'c'"}], "mark": {"type": "line", "color": "#1c6b16", "strokeWidth": 2, "strokeDash": [2, 3]}, "encoding": {"x": {"field": "t", "type": "quantitative", "scale": {"domain": [-6, 6], "nice": false}, "axis": {"values": [-5, -2.5, 0, 2.5, 5], "labels": false, "title": null}}, "y": {"field": "x", "type": "quantitative", "scale": {"domain": [0, 100], "nice": false}, "axis": {"values": [0, 20, 40, 50, 60, 80, 100], "labels": false, "title": null, "gridOpacity": {"condition": {"test": "datum.value == 50", "value": 0}, "value": 1}}}, "detail": {"field": "d", "type": "nominal"}, "order": {"field": "x", "type": "quantitative"}}},
        {"data": {"name": "tracks"}, "transform": [{"filter": "datum.p == 'c' && datum.x < 100"}], "mark": {"type": "point", "filled": true, "opacity": 1, "color": "#1c6b16", "size": 70}, "encoding": {"x": {"field": "t", "type": "quantitative"}, "y": {"field": "x", "type": "quantitative"}, "shape": {"field": "d", "type": "nominal", "scale": {"domain": ["1"], "range": ["square"]}, "legend": null}}},
        {"data": {"name": "tracks"}, "transform": [{"filter": "datum.p == 'c' && datum.x == 0"}], "mark": {"type": "point", "filled": true, "opacity": 0, "color": "#1c6b16"}, "encoding": {"x": {"field": "t", "type": "quantitative"}, "y": {"field": "x", "type": "quantitative"}, "shape": {"field": "d", "type": "nominal", "scale": {"domain": ["1"], "range": ["M-0.66,-0.055H-0.54V0.055H-0.66Z M0.54,-0.055H0.66V0.055H0.54Z M-0.27,-0.27H0.27V0.27H-0.27Z"]}, "legend": {"title": null, "orient": "top-right", "zindex": 2}}}},
        {"data": {"name": "tags"}, "transform": [{"filter": "datum.p == 'c'"}], "mark": {"type": "text", "align": "left", "baseline": "middle", "fontSize": 20, "color": "#111"}, "encoding": {"x": {"datum": -5.25, "type": "quantitative"}, "y": {"datum": 88, "type": "quantitative"}, "text": {"field": "lab"}}}
      ]
    },
    {
      "width": 270, "height": 171,
      "resolve": {"scale": {"shape": "independent"}},
      "layer": [
        {"data": {"name": "tracks"}, "transform": [{"filter": "datum.p == 'd'"}], "mark": {"type": "line", "color": "#1c6b16", "strokeWidth": 2}, "encoding": {"x": {"field": "t", "type": "quantitative", "scale": {"domain": [-6, 6], "nice": false}, "axis": {"values": [-5, -2.5, 0, 2.5, 5], "labels": false, "title": null}}, "y": {"field": "x", "type": "quantitative", "scale": {"domain": [0, 100], "nice": false}, "axis": {"values": [0, 20, 40, 50, 60, 80, 100], "labelExpr": "datum.value % 50 == 0 ? datum.label : ''", "title": "X", "gridOpacity": {"condition": {"test": "datum.value == 50", "value": 0}, "value": 1}}}, "detail": {"field": "d", "type": "nominal"}, "order": {"field": "x", "type": "quantitative"}}},
        {"data": {"name": "tracks"}, "transform": [{"filter": "datum.p == 'd' && datum.x < 100"}], "mark": {"type": "point", "filled": true, "opacity": 1, "color": "#1c6b16", "size": 70}, "encoding": {"x": {"field": "t", "type": "quantitative"}, "y": {"field": "x", "type": "quantitative"}, "shape": {"field": "d", "type": "nominal", "scale": {"domain": ["1.0", "0.7", "0.3", "0.1"], "range": ["square", "circle", "triangle-down", "triangle-up"]}, "legend": null}}},
        {"data": {"name": "tracks"}, "transform": [{"filter": "datum.p == 'd' && datum.x == 0"}], "mark": {"type": "point", "filled": true, "opacity": 0, "color": "#1c6b16"}, "encoding": {"x": {"field": "t", "type": "quantitative"}, "y": {"field": "x", "type": "quantitative"}, "shape": {"field": "d", "type": "nominal", "scale": {"domain": ["1.0", "0.7", "0.3", "0.1"], "range": ["M-0.714,-0.06H0.714V0.06H-0.714Z M-0.3,-0.3H0.3V0.3H-0.3Z", "M-0.714,-0.06H0.714V0.06H-0.714Z M-0.32,0A0.32,0.32,0,1,1,0.32,0A0.32,0.32,0,1,1,-0.32,0Z", "M-0.714,-0.06H0.714V0.06H-0.714Z M-0.35,-0.29H0.35L0,0.33Z", "M-0.714,-0.06H0.714V0.06H-0.714Z M0.35,0.29H-0.35L0,-0.33Z"]}, "legend": {"title": null, "orient": "top-right", "zindex": 2, "labelExpr": "datum.label + '   '"}}}},
        {"data": {"name": "tags"}, "transform": [{"filter": "datum.p == 'd'"}], "mark": {"type": "text", "align": "left", "baseline": "middle", "fontSize": 20, "color": "#111"}, "encoding": {"x": {"datum": -5.4, "type": "quantitative"}, "y": {"datum": 88, "type": "quantitative"}, "text": {"field": "lab"}}}
      ]
    },
    {
      "width": 270, "height": 171,
      "resolve": {"scale": {"shape": "independent"}},
      "layer": [
        {"data": {"name": "tracks"}, "transform": [{"filter": "datum.p == 'e'"}], "mark": {"type": "line", "color": "#1c6b16", "strokeWidth": 2, "strokeDash": [7, 3]}, "encoding": {"x": {"field": "t", "type": "quantitative", "scale": {"domain": [-6, 6], "nice": false}, "axis": {"values": [-5, -2.5, 0, 2.5, 5], "labels": false, "title": null}}, "y": {"field": "x", "type": "quantitative", "scale": {"domain": [0, 100], "nice": false}, "axis": {"values": [0, 20, 40, 50, 60, 80, 100], "labels": false, "title": null, "gridOpacity": {"condition": {"test": "datum.value == 50", "value": 0}, "value": 1}}}, "detail": {"field": "d", "type": "nominal"}, "order": {"field": "x", "type": "quantitative"}}},
        {"data": {"name": "tracks"}, "transform": [{"filter": "datum.p == 'e' && datum.x < 100"}], "mark": {"type": "point", "filled": true, "opacity": 1, "color": "#1c6b16", "size": 70}, "encoding": {"x": {"field": "t", "type": "quantitative"}, "y": {"field": "x", "type": "quantitative"}, "shape": {"field": "d", "type": "nominal", "scale": {"domain": ["1.0", "0.7", "0.3", "0.1"], "range": ["square", "circle", "triangle-down", "triangle-up"]}, "legend": null}}},
        {"data": {"name": "tracks"}, "transform": [{"filter": "datum.p == 'e' && datum.x == 0"}], "mark": {"type": "point", "filled": true, "opacity": 0, "color": "#1c6b16"}, "encoding": {"x": {"field": "t", "type": "quantitative"}, "y": {"field": "x", "type": "quantitative"}, "shape": {"field": "d", "type": "nominal", "scale": {"domain": ["1.0", "0.7", "0.3", "0.1"], "range": ["M-0.714,-0.06H-0.2V0.06H-0.714Z M0.42,-0.06H0.7V0.06H0.42Z M-0.3,-0.3H0.3V0.3H-0.3Z", "M-0.714,-0.06H-0.2V0.06H-0.714Z M0.42,-0.06H0.7V0.06H0.42Z M-0.32,0A0.32,0.32,0,1,1,0.32,0A0.32,0.32,0,1,1,-0.32,0Z", "M-0.714,-0.06H-0.2V0.06H-0.714Z M0.42,-0.06H0.7V0.06H0.42Z M-0.35,-0.29H0.35L0,0.33Z", "M-0.714,-0.06H-0.2V0.06H-0.714Z M0.42,-0.06H0.7V0.06H0.42Z M0.35,0.29H-0.35L0,-0.33Z"]}, "legend": {"title": null, "orient": "top-right", "zindex": 2, "labelExpr": "datum.label + '   '"}}}},
        {"data": {"name": "tags"}, "transform": [{"filter": "datum.p == 'e'"}], "mark": {"type": "text", "align": "left", "baseline": "middle", "fontSize": 20, "color": "#111"}, "encoding": {"x": {"datum": -5.35, "type": "quantitative"}, "y": {"datum": 88, "type": "quantitative"}, "text": {"field": "lab"}}}
      ]
    },
    {
      "width": 270, "height": 171,
      "resolve": {"scale": {"shape": "independent"}},
      "layer": [
        {"data": {"name": "tracks"}, "transform": [{"filter": "datum.p == 'f'"}], "mark": {"type": "line", "color": "#1c6b16", "strokeWidth": 2, "strokeDash": [2, 3]}, "encoding": {"x": {"field": "t", "type": "quantitative", "scale": {"domain": [-6, 6], "nice": false}, "axis": {"values": [-5, -2.5, 0, 2.5, 5], "labels": false, "title": null}}, "y": {"field": "x", "type": "quantitative", "scale": {"domain": [0, 100], "nice": false}, "axis": {"values": [0, 20, 40, 50, 60, 80, 100], "labels": false, "title": null, "gridOpacity": {"condition": {"test": "datum.value == 50", "value": 0}, "value": 1}}}, "detail": {"field": "d", "type": "nominal"}, "order": {"field": "x", "type": "quantitative"}}},
        {"data": {"name": "tracks"}, "transform": [{"filter": "datum.p == 'f' && datum.x < 100"}], "mark": {"type": "point", "filled": true, "opacity": 1, "color": "#1c6b16", "size": 70}, "encoding": {"x": {"field": "t", "type": "quantitative"}, "y": {"field": "x", "type": "quantitative"}, "shape": {"field": "d", "type": "nominal", "scale": {"domain": ["1.0", "0.7", "0.3", "0.1"], "range": ["square", "circle", "triangle-down", "triangle-up"]}, "legend": null}}},
        {"data": {"name": "tracks"}, "transform": [{"filter": "datum.p == 'f' && datum.x == 0"}], "mark": {"type": "point", "filled": true, "opacity": 0, "color": "#1c6b16"}, "encoding": {"x": {"field": "t", "type": "quantitative"}, "y": {"field": "x", "type": "quantitative"}, "shape": {"field": "d", "type": "nominal", "scale": {"domain": ["1.0", "0.7", "0.3", "0.1"], "range": ["M-0.66,-0.06H-0.54V0.06H-0.66Z M0.54,-0.06H0.66V0.06H0.54Z M-0.3,-0.3H0.3V0.3H-0.3Z", "M-0.66,-0.06H-0.54V0.06H-0.66Z M0.54,-0.06H0.66V0.06H0.54Z M-0.32,0A0.32,0.32,0,1,1,0.32,0A0.32,0.32,0,1,1,-0.32,0Z", "M-0.66,-0.06H-0.54V0.06H-0.66Z M0.54,-0.06H0.66V0.06H0.54Z M-0.35,-0.29H0.35L0,0.33Z", "M-0.66,-0.06H-0.54V0.06H-0.66Z M0.54,-0.06H0.66V0.06H0.54Z M0.35,0.29H-0.35L0,-0.33Z"]}, "legend": {"title": null, "orient": "bottom-right", "zindex": 2, "labelExpr": "datum.label + '   '"}}}},
        {"data": {"name": "tags"}, "transform": [{"filter": "datum.p == 'f'"}], "mark": {"type": "text", "align": "left", "baseline": "middle", "fontSize": 20, "color": "#111"}, "encoding": {"x": {"datum": -5.45, "type": "quantitative"}, "y": {"datum": 88, "type": "quantitative"}, "text": {"field": "lab"}}},
        {"data": {"values": [{"part": "colorbar"}]}, "mark": {"type": "rect", "stroke": "#666", "strokeWidth": 1, "fill": {"gradient": "linear", "x1": 0, "y1": 1, "x2": 0, "y2": 0, "stops": [{"offset": 0, "color": "#ffffff"}, {"offset": 0.1, "color": "#fffbe3"}, {"offset": 0.2, "color": "#fff3b4"}, {"offset": 0.3, "color": "#ffe57e"}, {"offset": 0.4, "color": "#fdc456"}, {"offset": 0.5, "color": "#f89b36"}, {"offset": 0.6, "color": "#e8731f"}, {"offset": 0.7, "color": "#c64c12"}, {"offset": 0.8, "color": "#973009"}, {"offset": 0.9, "color": "#671c05"}, {"offset": 1, "color": "#3d0a02"}]}}, "encoding": {"x": {"datum": 6.933, "type": "quantitative"}, "x2": {"datum": 7.6}, "y": {"datum": -102.92, "type": "quantitative"}, "y2": {"datum": 64.91}}},
        {"data": {"values": [{"part": "colorbar"}]}, "mark": {"type": "rule", "color": "#444", "strokeWidth": 1}, "encoding": {"x": {"datum": 7.6, "type": "quantitative"}, "x2": {"datum": 7.8}, "y": {"datum": 64.91, "type": "quantitative"}}},
        {"data": {"values": [{"part": "colorbar"}]}, "mark": {"type": "rule", "color": "#444", "strokeWidth": 1}, "encoding": {"x": {"datum": 7.6, "type": "quantitative"}, "x2": {"datum": 7.8}, "y": {"datum": -19.0, "type": "quantitative"}}},
        {"data": {"values": [{"part": "colorbar"}]}, "mark": {"type": "rule", "color": "#444", "strokeWidth": 1}, "encoding": {"x": {"datum": 7.6, "type": "quantitative"}, "x2": {"datum": 7.8}, "y": {"datum": -102.92, "type": "quantitative"}}},
        {"data": {"values": [{"part": "colorbar"}]}, "mark": {"type": "text", "text": "1.0", "align": "left", "baseline": "middle", "fontSize": 24, "color": "#111"}, "encoding": {"x": {"datum": 8.0, "type": "quantitative"}, "y": {"datum": 64.91, "type": "quantitative"}}},
        {"data": {"values": [{"part": "colorbar"}]}, "mark": {"type": "text", "text": "0.5", "align": "left", "baseline": "middle", "fontSize": 24, "color": "#111"}, "encoding": {"x": {"datum": 8.0, "type": "quantitative"}, "y": {"datum": -19.0, "type": "quantitative"}}},
        {"data": {"values": [{"part": "colorbar"}]}, "mark": {"type": "text", "text": "0.0", "align": "left", "baseline": "middle", "fontSize": 24, "color": "#111"}, "encoding": {"x": {"datum": 8.0, "type": "quantitative"}, "y": {"datum": -102.92, "type": "quantitative"}}},
        {"data": {"values": [{"part": "colorbar"}]}, "mark": {"type": "text", "text": "|a(x,t)|²", "angle": 270, "fontSize": 24, "align": "center", "baseline": "middle", "color": "#111"}, "encoding": {"x": {"datum": 10.9, "type": "quantitative"}, "y": {"datum": -19.0, "type": "quantitative"}}},
        {"data": {"values": [{"part": "colorbar"}]}, "mark": {"type": "rule", "color": "#111", "strokeWidth": 1.5}, "encoding": {"x": {"datum": 11.644, "type": "quantitative"}, "y": {"datum": 4.5, "type": "quantitative"}, "y2": {"datum": -42.5}}},
        {"data": {"values": [{"part": "colorbar"}]}, "mark": {"type": "text", "text": "|A₀|²", "angle": 270, "fontSize": 24, "align": "center", "baseline": "middle", "color": "#111"}, "encoding": {"x": {"datum": 12.45, "type": "quantitative"}, "y": {"datum": -19.0, "type": "quantitative"}}}
      ]
    },
    {
      "width": 270, "height": 171,
      "resolve": {"scale": {"shape": "independent"}},
      "layer": [
        {"data": {"name": "heat"}, "transform": [{"filter": "datum.p == 'g'"}], "mark": {"type": "area", "orient": "horizontal", "interpolate": "monotone", "clip": true}, "encoding": {"x": {"field": "t", "type": "quantitative", "scale": {"domain": [-6, 6], "nice": false}}, "x2": {"field": "t2"}, "y": {"field": "x", "type": "quantitative", "scale": {"domain": [0, 100], "nice": false}}, "fill": {"field": "v", "type": "quantitative", "scale": {"domain": [0, 1], "range": ["#ffffff", "#fffbe3", "#fff3b4", "#ffe57e", "#fdc456", "#f89b36", "#e8731f", "#c64c12", "#973009", "#671c05", "#3d0a02"]}, "legend": null}, "detail": {"field": "v", "type": "nominal"}}},
        {"data": {"name": "tracks"}, "transform": [{"filter": "datum.p == 'g'"}], "mark": {"type": "line", "color": "#1aabbd", "strokeWidth": 2}, "encoding": {"x": {"field": "t", "type": "quantitative", "scale": {"domain": [-6, 6], "nice": false}, "axis": {"values": [-5, -2.5, 0, 2.5, 5], "labels": false, "title": null}}, "y": {"field": "x", "type": "quantitative", "scale": {"domain": [0, 100], "nice": false}, "axis": {"values": [0, 20, 40, 50, 60, 80, 100], "labelExpr": "datum.value % 50 == 0 ? datum.label : ''", "title": "X", "gridOpacity": {"condition": {"test": "datum.value == 50", "value": 0}, "value": 1}}}, "detail": {"field": "d", "type": "nominal"}, "order": {"field": "x", "type": "quantitative"}}},
        {"data": {"name": "tracks"}, "transform": [{"filter": "datum.p == 'g' && datum.x < 100"}], "mark": {"type": "point", "filled": true, "opacity": 1, "color": "#1aabbd", "size": 70}, "encoding": {"x": {"field": "t", "type": "quantitative"}, "y": {"field": "x", "type": "quantitative"}, "shape": {"field": "d", "type": "nominal", "scale": {"domain": ["1"], "range": ["square"]}, "legend": null}}},
        {"data": {"name": "tracks"}, "transform": [{"filter": "datum.p == 'g' && datum.x == 0"}], "mark": {"type": "point", "filled": true, "opacity": 0, "color": "#1aabbd"}, "encoding": {"x": {"field": "t", "type": "quantitative"}, "y": {"field": "x", "type": "quantitative"}, "shape": {"field": "d", "type": "nominal", "scale": {"domain": ["1"], "range": ["M-0.714,-0.055H0.714V0.055H-0.714Z M-0.27,-0.27H0.27V0.27H-0.27Z"]}, "legend": {"title": null, "orient": "top-right", "zindex": 2}}}},
        {"data": {"name": "tags"}, "transform": [{"filter": "datum.p == 'g'"}], "mark": {"type": "text", "align": "left", "baseline": "middle", "fontSize": 20, "color": "#111"}, "encoding": {"x": {"datum": -5.5, "type": "quantitative"}, "y": {"datum": 13, "type": "quantitative"}, "text": {"field": "lab"}}},
        {"data": {"values": [{"part": "bracket"}]}, "mark": {"type": "rule", "color": "#222", "strokeWidth": 2, "strokeCap": "square"}, "encoding": {"x": {"datum": -10.933, "type": "quantitative"}, "y": {"datum": 102.92, "type": "quantitative"}, "y2": {"datum": -116.96}}},
        {"data": {"values": [{"part": "bracket"}]}, "mark": {"type": "rule", "color": "#222", "strokeWidth": 2, "strokeCap": "square"}, "encoding": {"x": {"datum": -10.933, "type": "quantitative"}, "x2": {"datum": -10.311}, "y": {"datum": 102.92, "type": "quantitative"}}},
        {"data": {"values": [{"part": "bracket"}]}, "mark": {"type": "rule", "color": "#222", "strokeWidth": 2, "strokeCap": "square"}, "encoding": {"x": {"datum": -10.933, "type": "quantitative"}, "x2": {"datum": -10.311}, "y": {"datum": -116.96, "type": "quantitative"}}},
        {"data": {"values": [{"part": "bracket"}]}, "mark": {"type": "rule", "color": "#222", "strokeWidth": 2, "strokeCap": "square"}, "encoding": {"x": {"datum": -11.289, "type": "quantitative"}, "x2": {"datum": -10.933}, "y": {"datum": -2.34, "type": "quantitative"}}},
        {"data": {"values": [{"part": "bracket"}]}, "mark": {"type": "text", "text": "HONLS", "angle": 270, "fontSize": 27, "align": "center", "baseline": "middle", "color": "#111"}, "encoding": {"x": {"datum": -11.95, "type": "quantitative"}, "y": {"datum": 1.75, "type": "quantitative"}}}
      ]
    },
    {
      "width": 270, "height": 171,
      "resolve": {"scale": {"shape": "independent"}},
      "layer": [
        {"data": {"name": "heat"}, "transform": [{"filter": "datum.p == 'h'"}], "mark": {"type": "area", "orient": "horizontal", "interpolate": "monotone", "clip": true}, "encoding": {"x": {"field": "t", "type": "quantitative", "scale": {"domain": [-6, 6], "nice": false}}, "x2": {"field": "t2"}, "y": {"field": "x", "type": "quantitative", "scale": {"domain": [0, 100], "nice": false}}, "fill": {"field": "v", "type": "quantitative", "scale": {"domain": [0, 1], "range": ["#ffffff", "#fffbe3", "#fff3b4", "#ffe57e", "#fdc456", "#f89b36", "#e8731f", "#c64c12", "#973009", "#671c05", "#3d0a02"]}, "legend": null}, "detail": {"field": "v", "type": "nominal"}}},
        {"data": {"name": "tracks"}, "transform": [{"filter": "datum.p == 'h'"}], "mark": {"type": "line", "color": "#1aabbd", "strokeWidth": 2, "strokeDash": [7, 3]}, "encoding": {"x": {"field": "t", "type": "quantitative", "scale": {"domain": [-6, 6], "nice": false}, "axis": {"values": [-5, -2.5, 0, 2.5, 5], "labels": false, "title": null}}, "y": {"field": "x", "type": "quantitative", "scale": {"domain": [0, 100], "nice": false}, "axis": {"values": [0, 20, 40, 50, 60, 80, 100], "labels": false, "title": null, "gridOpacity": {"condition": {"test": "datum.value == 50", "value": 0}, "value": 1}}}, "detail": {"field": "d", "type": "nominal"}, "order": {"field": "x", "type": "quantitative"}}},
        {"data": {"name": "tracks"}, "transform": [{"filter": "datum.p == 'h' && datum.x < 100"}], "mark": {"type": "point", "filled": true, "opacity": 1, "color": "#1aabbd", "size": 70}, "encoding": {"x": {"field": "t", "type": "quantitative"}, "y": {"field": "x", "type": "quantitative"}, "shape": {"field": "d", "type": "nominal", "scale": {"domain": ["1"], "range": ["square"]}, "legend": null}}},
        {"data": {"name": "tracks"}, "transform": [{"filter": "datum.p == 'h' && datum.x == 0"}], "mark": {"type": "point", "filled": true, "opacity": 0, "color": "#1aabbd"}, "encoding": {"x": {"field": "t", "type": "quantitative"}, "y": {"field": "x", "type": "quantitative"}, "shape": {"field": "d", "type": "nominal", "scale": {"domain": ["1"], "range": ["M-0.714,-0.055H-0.2V0.055H-0.714Z M0.42,-0.055H0.7V0.055H0.42Z M-0.27,-0.27H0.27V0.27H-0.27Z"]}, "legend": {"title": null, "orient": "top-right", "zindex": 2}}}},
        {"data": {"name": "tags"}, "transform": [{"filter": "datum.p == 'h'"}], "mark": {"type": "text", "align": "left", "baseline": "middle", "fontSize": 20, "color": "#111"}, "encoding": {"x": {"datum": -5.4, "type": "quantitative"}, "y": {"datum": 88, "type": "quantitative"}, "text": {"field": "lab"}}}
      ]
    },
    {
      "width": 270, "height": 171,
      "resolve": {"scale": {"shape": "independent"}},
      "layer": [
        {"data": {"name": "heat"}, "transform": [{"filter": "datum.p == 'i'"}], "mark": {"type": "area", "orient": "horizontal", "interpolate": "monotone", "clip": true}, "encoding": {"x": {"field": "t", "type": "quantitative", "scale": {"domain": [-6, 6], "nice": false}}, "x2": {"field": "t2"}, "y": {"field": "x", "type": "quantitative", "scale": {"domain": [0, 100], "nice": false}}, "fill": {"field": "v", "type": "quantitative", "scale": {"domain": [0, 1], "range": ["#ffffff", "#fffbe3", "#fff3b4", "#ffe57e", "#fdc456", "#f89b36", "#e8731f", "#c64c12", "#973009", "#671c05", "#3d0a02"]}, "legend": null}, "detail": {"field": "v", "type": "nominal"}}},
        {"data": {"name": "tracks"}, "transform": [{"filter": "datum.p == 'i'"}], "mark": {"type": "line", "color": "#1aabbd", "strokeWidth": 2, "strokeDash": [2, 3]}, "encoding": {"x": {"field": "t", "type": "quantitative", "scale": {"domain": [-6, 6], "nice": false}, "axis": {"values": [-5, -2.5, 0, 2.5, 5], "labels": false, "title": null}}, "y": {"field": "x", "type": "quantitative", "scale": {"domain": [0, 100], "nice": false}, "axis": {"values": [0, 20, 40, 50, 60, 80, 100], "labels": false, "title": null, "gridOpacity": {"condition": {"test": "datum.value == 50", "value": 0}, "value": 1}}}, "detail": {"field": "d", "type": "nominal"}, "order": {"field": "x", "type": "quantitative"}}},
        {"data": {"name": "tracks"}, "transform": [{"filter": "datum.p == 'i' && datum.x < 100"}], "mark": {"type": "point", "filled": true, "opacity": 1, "color": "#1aabbd", "size": 70}, "encoding": {"x": {"field": "t", "type": "quantitative"}, "y": {"field": "x", "type": "quantitative"}, "shape": {"field": "d", "type": "nominal", "scale": {"domain": ["1"], "range": ["square"]}, "legend": null}}},
        {"data": {"name": "tracks"}, "transform": [{"filter": "datum.p == 'i' && datum.x == 0"}], "mark": {"type": "point", "filled": true, "opacity": 0, "color": "#1aabbd"}, "encoding": {"x": {"field": "t", "type": "quantitative"}, "y": {"field": "x", "type": "quantitative"}, "shape": {"field": "d", "type": "nominal", "scale": {"domain": ["1"], "range": ["M-0.66,-0.055H-0.54V0.055H-0.66Z M0.54,-0.055H0.66V0.055H0.54Z M-0.27,-0.27H0.27V0.27H-0.27Z"]}, "legend": {"title": null, "orient": "bottom-right", "offset": 7, "zindex": 2}}}},
        {"data": {"name": "tags"}, "transform": [{"filter": "datum.p == 'i'"}], "mark": {"type": "text", "align": "left", "baseline": "middle", "fontSize": 20, "color": "#111"}, "encoding": {"x": {"datum": -5.4, "type": "quantitative"}, "y": {"datum": 86.5, "type": "quantitative"}, "text": {"field": "lab"}}}
      ]
    },
    {
      "width": 270, "height": 171,
      "resolve": {"scale": {"shape": "independent"}},
      "layer": [
        {"data": {"name": "tracks"}, "transform": [{"filter": "datum.p == 'j'"}], "mark": {"type": "line", "color": "#1aabbd", "strokeWidth": 2}, "encoding": {"x": {"field": "t", "type": "quantitative", "scale": {"domain": [-6, 6], "nice": false}, "axis": {"values": [-5, -2.5, 0, 2.5, 5], "labelExpr": "datum.value == -5 ? '-5' : datum.value == 0 ? '0' : datum.value == 5 ? '5' : ''", "title": "T"}}, "y": {"field": "x", "type": "quantitative", "scale": {"domain": [0, 100], "nice": false}, "axis": {"values": [0, 20, 40, 50, 60, 80, 100], "labelExpr": "datum.value % 50 == 0 ? datum.label : ''", "title": "X", "gridOpacity": {"condition": {"test": "datum.value == 50", "value": 0}, "value": 1}}}, "detail": {"field": "d", "type": "nominal"}, "order": {"field": "x", "type": "quantitative"}}},
        {"data": {"name": "tracks"}, "transform": [{"filter": "datum.p == 'j' && datum.x < 100"}], "mark": {"type": "point", "filled": true, "opacity": 1, "color": "#1aabbd", "size": 70}, "encoding": {"x": {"field": "t", "type": "quantitative"}, "y": {"field": "x", "type": "quantitative"}, "shape": {"field": "d", "type": "nominal", "scale": {"domain": ["1.0", "0.7", "0.3", "0.1"], "range": ["square", "circle", "triangle-down", "triangle-up"]}, "legend": null}}},
        {"data": {"name": "tracks"}, "transform": [{"filter": "datum.p == 'j' && datum.x == 0"}], "mark": {"type": "point", "filled": true, "opacity": 0, "color": "#1aabbd"}, "encoding": {"x": {"field": "t", "type": "quantitative"}, "y": {"field": "x", "type": "quantitative"}, "shape": {"field": "d", "type": "nominal", "scale": {"domain": ["1.0", "0.7", "0.3", "0.1"], "range": ["M-0.714,-0.06H0.714V0.06H-0.714Z M-0.3,-0.3H0.3V0.3H-0.3Z", "M-0.714,-0.06H0.714V0.06H-0.714Z M-0.32,0A0.32,0.32,0,1,1,0.32,0A0.32,0.32,0,1,1,-0.32,0Z", "M-0.714,-0.06H0.714V0.06H-0.714Z M-0.35,-0.29H0.35L0,0.33Z", "M-0.714,-0.06H0.714V0.06H-0.714Z M0.35,0.29H-0.35L0,-0.33Z"]}, "legend": {"title": null, "orient": "top-right", "zindex": 2, "labelExpr": "datum.label + '   '"}}}},
        {"data": {"name": "tags"}, "transform": [{"filter": "datum.p == 'j'"}], "mark": {"type": "text", "align": "left", "baseline": "middle", "fontSize": 20, "color": "#111"}, "encoding": {"x": {"datum": -5.4, "type": "quantitative"}, "y": {"datum": 18, "type": "quantitative"}, "text": {"field": "lab"}}}
      ]
    },
    {
      "width": 270, "height": 171,
      "resolve": {"scale": {"shape": "independent"}},
      "layer": [
        {"data": {"name": "tracks"}, "transform": [{"filter": "datum.p == 'k'"}], "mark": {"type": "line", "color": "#1aabbd", "strokeWidth": 2, "strokeDash": [7, 3]}, "encoding": {"x": {"field": "t", "type": "quantitative", "scale": {"domain": [-6, 6], "nice": false}, "axis": {"values": [-5, -2.5, 0, 2.5, 5], "labelExpr": "datum.value == -5 ? '-5' : datum.value == 0 ? '0' : datum.value == 5 ? '5' : ''", "title": "T"}}, "y": {"field": "x", "type": "quantitative", "scale": {"domain": [0, 100], "nice": false}, "axis": {"values": [0, 20, 40, 50, 60, 80, 100], "labels": false, "title": null, "gridOpacity": {"condition": {"test": "datum.value == 50", "value": 0}, "value": 1}}}, "detail": {"field": "d", "type": "nominal"}, "order": {"field": "x", "type": "quantitative"}}},
        {"data": {"name": "tracks"}, "transform": [{"filter": "datum.p == 'k' && datum.x < 100"}], "mark": {"type": "point", "filled": true, "opacity": 1, "color": "#1aabbd", "size": 70}, "encoding": {"x": {"field": "t", "type": "quantitative"}, "y": {"field": "x", "type": "quantitative"}, "shape": {"field": "d", "type": "nominal", "scale": {"domain": ["1.0", "0.7", "0.3", "0.1"], "range": ["square", "circle", "triangle-down", "triangle-up"]}, "legend": null}}},
        {"data": {"name": "tracks"}, "transform": [{"filter": "datum.p == 'k' && datum.x == 0"}], "mark": {"type": "point", "filled": true, "opacity": 0, "color": "#1aabbd"}, "encoding": {"x": {"field": "t", "type": "quantitative"}, "y": {"field": "x", "type": "quantitative"}, "shape": {"field": "d", "type": "nominal", "scale": {"domain": ["1.0", "0.7", "0.3", "0.1"], "range": ["M-0.714,-0.06H-0.2V0.06H-0.714Z M0.42,-0.06H0.7V0.06H0.42Z M-0.3,-0.3H0.3V0.3H-0.3Z", "M-0.714,-0.06H-0.2V0.06H-0.714Z M0.42,-0.06H0.7V0.06H0.42Z M-0.32,0A0.32,0.32,0,1,1,0.32,0A0.32,0.32,0,1,1,-0.32,0Z", "M-0.714,-0.06H-0.2V0.06H-0.714Z M0.42,-0.06H0.7V0.06H0.42Z M-0.35,-0.29H0.35L0,0.33Z", "M-0.714,-0.06H-0.2V0.06H-0.714Z M0.42,-0.06H0.7V0.06H0.42Z M0.35,0.29H-0.35L0,-0.33Z"]}, "legend": {"title": null, "orient": "top-right", "zindex": 2, "labelExpr": "datum.label + '   '"}}}},
        {"data": {"name": "tags"}, "transform": [{"filter": "datum.p == 'k'"}], "mark": {"type": "text", "align": "left", "baseline": "middle", "fontSize": 20, "color": "#111"}, "encoding": {"x": {"datum": -5.4, "type": "quantitative"}, "y": {"datum": 18, "type": "quantitative"}, "text": {"field": "lab"}}}
      ]
    },
    {
      "width": 270, "height": 171,
      "resolve": {"scale": {"shape": "independent"}},
      "layer": [
        {"data": {"name": "tracks"}, "transform": [{"filter": "datum.p == 'l'"}], "mark": {"type": "line", "color": "#1aabbd", "strokeWidth": 2, "strokeDash": [2, 3]}, "encoding": {"x": {"field": "t", "type": "quantitative", "scale": {"domain": [-6, 6], "nice": false}, "axis": {"values": [-5, -2.5, 0, 2.5, 5], "labelExpr": "datum.value == -5 ? '-5' : datum.value == 0 ? '0' : datum.value == 5 ? '5' : ''", "title": "T"}}, "y": {"field": "x", "type": "quantitative", "scale": {"domain": [0, 100], "nice": false}, "axis": {"values": [0, 20, 40, 50, 60, 80, 100], "labels": false, "title": null, "gridOpacity": {"condition": {"test": "datum.value == 50", "value": 0}, "value": 1}}}, "detail": {"field": "d", "type": "nominal"}, "order": {"field": "x", "type": "quantitative"}}},
        {"data": {"name": "tracks"}, "transform": [{"filter": "datum.p == 'l' && datum.x < 100"}], "mark": {"type": "point", "filled": true, "opacity": 1, "color": "#1aabbd", "size": 70}, "encoding": {"x": {"field": "t", "type": "quantitative"}, "y": {"field": "x", "type": "quantitative"}, "shape": {"field": "d", "type": "nominal", "scale": {"domain": ["1.0", "0.7", "0.3", "0.1"], "range": ["square", "circle", "triangle-down", "triangle-up"]}, "legend": null}}},
        {"data": {"name": "tracks"}, "transform": [{"filter": "datum.p == 'l' && datum.x == 0"}], "mark": {"type": "point", "filled": true, "opacity": 0, "color": "#1aabbd"}, "encoding": {"x": {"field": "t", "type": "quantitative"}, "y": {"field": "x", "type": "quantitative"}, "shape": {"field": "d", "type": "nominal", "scale": {"domain": ["1.0", "0.7", "0.3", "0.1"], "range": ["M-0.66,-0.06H-0.54V0.06H-0.66Z M0.54,-0.06H0.66V0.06H0.54Z M-0.3,-0.3H0.3V0.3H-0.3Z", "M-0.66,-0.06H-0.54V0.06H-0.66Z M0.54,-0.06H0.66V0.06H0.54Z M-0.32,0A0.32,0.32,0,1,1,0.32,0A0.32,0.32,0,1,1,-0.32,0Z", "M-0.66,-0.06H-0.54V0.06H-0.66Z M0.54,-0.06H0.66V0.06H0.54Z M-0.35,-0.29H0.35L0,0.33Z", "M-0.66,-0.06H-0.54V0.06H-0.66Z M0.54,-0.06H0.66V0.06H0.54Z M0.35,0.29H-0.35L0,-0.33Z"]}, "legend": {"title": null, "orient": "bottom-right", "zindex": 2, "labelExpr": "datum.label + '   '"}}}},
        {"data": {"name": "tags"}, "transform": [{"filter": "datum.p == 'l'"}], "mark": {"type": "text", "align": "left", "baseline": "middle", "fontSize": 20, "color": "#111"}, "encoding": {"x": {"datum": -5.4, "type": "quantitative"}, "y": {"datum": 86.5, "type": "quantitative"}, "text": {"field": "lab"}}}
      ]
    }
  ]
}
